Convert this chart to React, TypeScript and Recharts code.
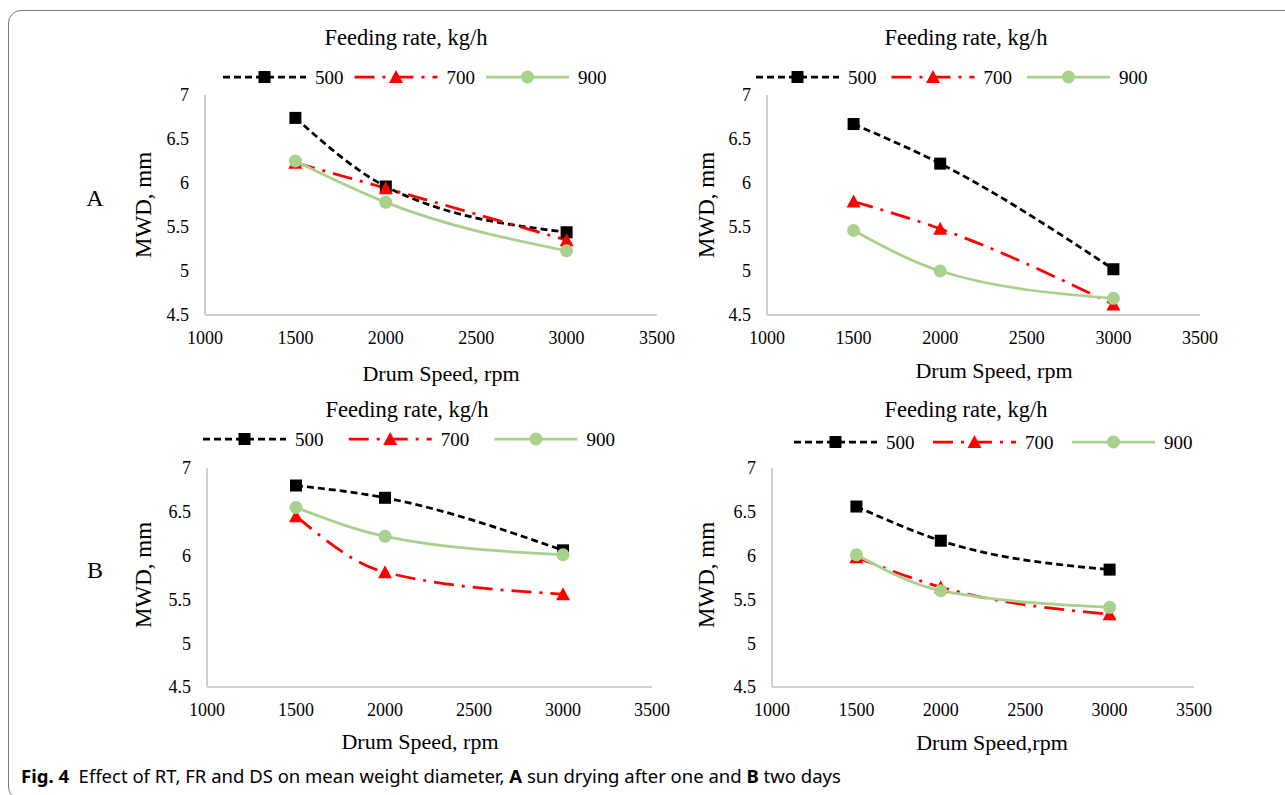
import React from 'react';
import { LineChart, Line, XAxis, YAxis } from 'recharts';

// ---- data ----
const drumSpeeds = [1500, 2000, 3000];
const xTicks = [1000, 1500, 2000, 2500, 3000, 3500];
const yTicks = [4.5, 5, 5.5, 6, 6.5, 7];
const feedRates = ['500', '700', '900'];

// A: sun drying after one day (left / right panels)
const aLeft500 = [6.74, 5.96, 5.44];
const aLeft700 = [6.23, 5.94, 5.35];
const aLeft900 = [6.25, 5.78, 5.23];
const aRight500 = [6.67, 6.22, 5.02];
const aRight700 = [5.79, 5.48, 4.62];
const aRight900 = [5.46, 5.0, 4.69];
// B: two days
const bLeft500 = [6.8, 6.66, 6.06];
const bLeft700 = [6.45, 5.81, 5.56];
const bLeft900 = [6.55, 6.22, 6.01];
const bRight500 = [6.56, 6.17, 5.84];
const bRight700 = [5.98, 5.64, 5.33];
const bRight900 = [6.01, 5.6, 5.41];

const buildData = (s500: number[], s700: number[], s900: number[]) =>
  drumSpeeds.map((speed, i) => ({ speed, f500: s500[i], f700: s700[i], f900: s900[i] }));

const SERIF = '"Liberation Serif", "Times New Roman", serif';
const SANS = '"Noto Sans", "Open Sans", sans-serif';

const seriesStyle: Record<string, { key: string; color: string; dash?: string; marker: string }> = {
  '500': { key: 'f500', color: '#000000', dash: '7 4', marker: 'square' },
  '700': { key: 'f700', color: '#ff0000', dash: '20 8 3 8', marker: 'triangle' },
  '900': { key: 'f900', color: '#a9d18e', dash: undefined, marker: 'circle' },
};

const Marker = ({ type, cx, cy, color }: { type: string; cx: number; cy: number; color: string }) => {
  if (type === 'square') return <rect x={cx - 6} y={cy - 6} width={12} height={12} fill={color} />;
  if (type === 'triangle')
    return <polygon points={`${cx},${cy - 7} ${cx + 7},${cy + 6} ${cx - 7},${cy + 6}`} fill={color} />;
  return <circle cx={cx} cy={cy} r={6.5} fill={color} />;
};

const makeDot = (type: string, color: string) => (props: any) => {
  const { cx, cy, index } = props;
  if (cx == null || cy == null) return <g key={`d-${index}`} />;
  return (
    <g key={`d-${type}-${index}`}>
      <Marker type={type} cx={cx} cy={cy} color={color} />
    </g>
  );
};

const LegendRow = ({ left, top, pitch }: { left: number; top: number; pitch: number }) => (
  <svg style={{ position: 'absolute', left, top: top - 12 }} width={pitch * 3 + 10} height={24}>
    {feedRates.map((fr, i) => {
      const st = seriesStyle[fr];
      const x0 = i * pitch;
      return (
        <g key={fr}>
          <line x1={x0} y1={12} x2={x0 + 83} y2={12} stroke={st.color} strokeWidth={2.75} strokeDasharray={st.dash} />
          <Marker type={st.marker} cx={x0 + 41.5} cy={12} color={st.color} />
          <text x={x0 + 92} y={12} dy="0.35em" fontFamily={SERIF} fontSize={19} fill="#000">
            {fr}
          </text>
        </g>
      );
    })}
  </svg>
);

type PanelProps = {
  data: any[];
  plotLeft: number;
  plotTop: number;
  plotW: number;
  plotH: number;
};

const Panel = ({ data, plotLeft, plotTop, plotW, plotH }: PanelProps) => (
  <div style={{ position: 'absolute', left: plotLeft - 60, top: plotTop - 15 }}>
    <LineChart width={plotW + 80} height={plotH + 55} data={data} margin={{ top: 15, right: 20, left: 0, bottom: 0 }}>
      <XAxis
        dataKey="speed"
        type="number"
        domain={[1000, 3500]}
        ticks={xTicks}
        interval={0}
        height={40}
        axisLine={{ stroke: '#d0d0d0', strokeWidth: 2 }}
        tickLine={false}
        tickSize={6}
        tickMargin={10}
        tick={{ fill: '#000', fontSize: 18, fontFamily: SERIF }}
      />
      <YAxis
        type="number"
        domain={[4.5, 7]}
        ticks={yTicks}
        interval={0}
        width={60}
        axisLine={{ stroke: '#d0d0d0', strokeWidth: 2 }}
        tickLine={false}
        tickSize={6}
        tickMargin={10}
        tick={{ fill: '#000', fontSize: 18, fontFamily: SERIF }}
      />
      {feedRates.map((fr) => {
        const st = seriesStyle[fr];
        return (
          <Line
            key={fr}
            type="monotone"
            dataKey={st.key}
            stroke={st.color}
            strokeWidth={2.75}
            strokeDasharray={st.dash}
            dot={makeDot(st.marker, st.color)}
            activeDot={false}
            isAnimationActive={false}
          />
        );
      })}
    </LineChart>
  </div>
);

const Label = ({ x, y, text, size = 19, rotate = false }: { x: number; y: number; text: string; size?: number; rotate?: boolean }) => (
  <div
    style={{
      position: 'absolute',
      left: x,
      top: y,
      transform: `translate(-50%, -50%)${rotate ? ' rotate(-90deg)' : ''}`,
      fontFamily: SERIF,
      fontSize: size,
      whiteSpace: 'nowrap',
      color: '#000',
      lineHeight: 1,
    }}
  >
    {text}
  </div>
);

export default function App() {
  return (
    <div style={{ position: 'absolute', left: 0, top: 0, width: 1285, height: 795, overflow: 'hidden', background: '#fff' }}>
      <div
        style={{
          position: 'absolute',
          left: 8,
          top: 10,
          width: 1400,
          height: 790,
          border: '1.5px solid #7a7a7a',
          borderRadius: 13,
          boxSizing: 'border-box',
        }}
      />
      {/* titles */}
      <Label x={406} y={38} text="Feeding rate, kg/h" size={22.5} />
      <Label x={966} y={38} text="Feeding rate, kg/h" size={22.5} />
      <Label x={407} y={410} text="Feeding rate, kg/h" size={22.5} />
      <Label x={966} y={410} text="Feeding rate, kg/h" size={22.5} />

      <LegendRow left={223} top={77} pitch={131.5} />
      <LegendRow left={756} top={77} pitch={135.5} />
      <LegendRow left={203} top={439} pitch={145.7} />
      <LegendRow left={794} top={442} pitch={139} />

      <Panel data={buildData(aLeft500, aLeft700, aLeft900)} plotLeft={205} plotTop={95} plotW={452} plotH={220} />
      <Panel data={buildData(aRight500, aRight700, aRight900)} plotLeft={767} plotTop={95} plotW={433} plotH={220} />
      <Panel data={buildData(bLeft500, bLeft700, bLeft900)} plotLeft={207} plotTop={468} plotW={445} plotH={219} />
      <Panel data={buildData(bRight500, bRight700, bRight900)} plotLeft={772} plotTop={468} plotW={422} plotH={219} />

      <Label x={143} y={205} text="MWD, mm" rotate size={23} />
      <Label x={706} y={205} text="MWD, mm" rotate size={23} />
      <Label x={143} y={575} text="MWD, mm" rotate size={23} />
      <Label x={706} y={575} text="MWD, mm" rotate size={23} />

      <Label x={95} y={198} text="A" size={24} />
      <Label x={95} y={570} text="B" size={24} />

      <Label x={441} y={374} text="Drum Speed, rpm" size={22} />
      <Label x={994} y={371} text="Drum Speed, rpm" size={22} />
      <Label x={420} y={742} text="Drum Speed, rpm" size={22} />
      <Label x={992} y={743} text="Drum Speed,rpm" size={22} />

      <div
        style={{
          position: 'absolute',
          left: 21,
          top: 776,
          transform: 'translateY(-50%)',
          fontFamily: SANS,
          fontSize: 18.5,
          whiteSpace: 'nowrap',
          color: '#000',
          lineHeight: 1,
        }}
      >
        <b>Fig. 4</b>&nbsp;&nbsp;Effect of RT, FR and DS on mean weight diameter, <b>A</b> sun drying after one and <b>B</b> two days
      </div>
    </div>
  );
}
